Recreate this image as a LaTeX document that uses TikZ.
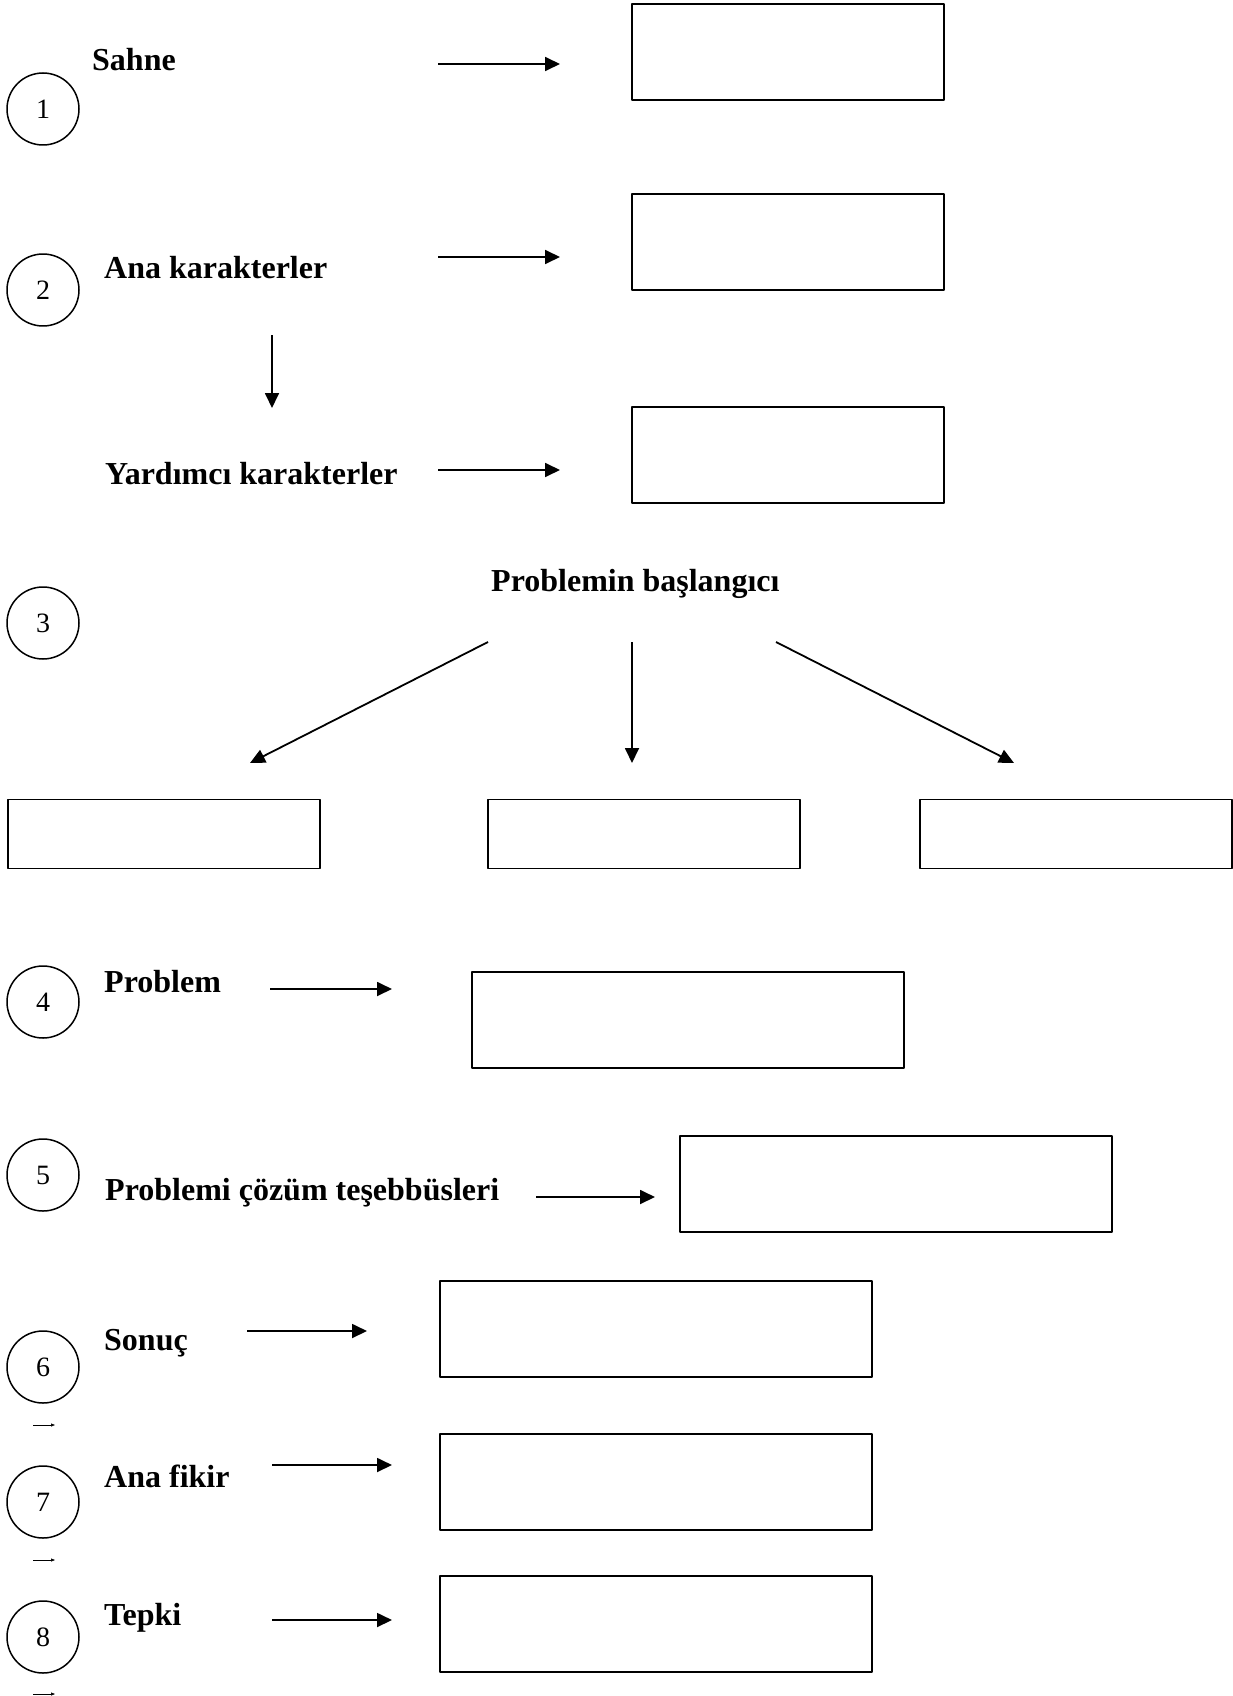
\documentclass[tikz,border=0pt]{standalone}
\usepackage{fontspec}
\setmainfont{Liberation Serif}
\usetikzlibrary{arrows.meta}
\begin{document}
\begin{tikzpicture}[x=1pt,y=-1pt,>={Triangle[length=15pt,width=14pt]},line join=round,
	num/.style={circle,draw,line width=1.5pt,minimum size=72pt,inner sep=0pt,font=\fontsize{28}{30}\selectfont},
	lbl/.style={anchor=base west,inner sep=0pt,font=\fontsize{32}{36}\selectfont\bfseries},
	kutu/.style={draw,line width=1.6pt,minimum width=312pt,minimum height=96pt,inner sep=0pt},
	genis/.style={kutu,minimum width=432pt},
	ok/.style={->,line width=1.8pt},
	minik/.style={-{Triangle[length=4pt,width=3pt]},line width=0.7pt}]
	\useasboundingbox (0,0) rectangle (1233,1696);
	% numaralar
	\foreach \n/\y in {1/109,2/290,3/623,4/1002,5/1175,6/1367,7/1502,8/1637}
		\node[num] (c\n) at (43,\y) {\n};
	% basliklar
	\node[lbl] (sahne) at (92,71) {Sahne};
	\node[lbl] (anakar) at (104,278) {Ana karakterler};
	\node[lbl] (yardkar) at (105,484) {Yardımcı karakterler};
	\node[lbl] (baslangic) at (491,591) {Problemin başlangıcı};
	\node[lbl] (problem) at (104,992) {Problem};
	\node[lbl] (cozum) at (105,1200) {Problemi çözüm teşebbüsleri};
	\node[lbl] (sonuc) at (104,1350) {Sonuç};
	\node[lbl] (fikir) at (104,1487) {Ana fikir};
	\node[lbl] (tepki) at (104,1625) {Tepki};
	% kutular
	\node[kutu] (k1) at (788,52) {};
	\node[kutu] (k2) at (788,242) {};
	\node[kutu] (k3) at (788,455) {};
	\node[kutu,minimum height=69pt] (k3a) at (164,834) {};
	\node[kutu,minimum height=69pt] (k3b) at (644,834) {};
	\node[kutu,minimum height=69pt] (k3c) at (1076,834) {};
	\node[genis] (k4) at (688,1020) {};
	\node[genis] (k5) at (896,1184) {};
	\node[genis] (k6) at (656,1329) {};
	\node[genis] (k7) at (656,1482) {};
	\node[genis] (k8) at (656,1624) {};
	% oklar
	\foreach \i/\xa/\xb/\y in {1/438/560/64,2/438/560/257,y/438/560/470,4/270/392/989,5/536/655/1197,6/247/367/1331,7/272/392/1465,8/272/392/1620}{
		\coordinate (o\i a) at (\xa,\y); \coordinate (o\i b) at (\xb,\y);
		\draw[ok] (o\i a) -- (o\i b);
	}
	\coordinate (asagi a) at (272,335); \coordinate (asagi b) at (272,408);
	\draw[ok] (asagi a) -- (asagi b);
	% problemin baslangici dallari
	\coordinate (d1) at (488,642); \coordinate (d2) at (632,642); \coordinate (d3) at (776,642);
	\draw[ok] (d1) -- (250,763);
	\draw[ok] (d2) -- (632,763);
	\draw[ok] (d3) -- (1014,763);
	% kucuk oklar
	\foreach \y in {1425,1560,1694}
		\draw[minik] (33,\y) -- (55,\y);
\end{tikzpicture}
\end{document}
